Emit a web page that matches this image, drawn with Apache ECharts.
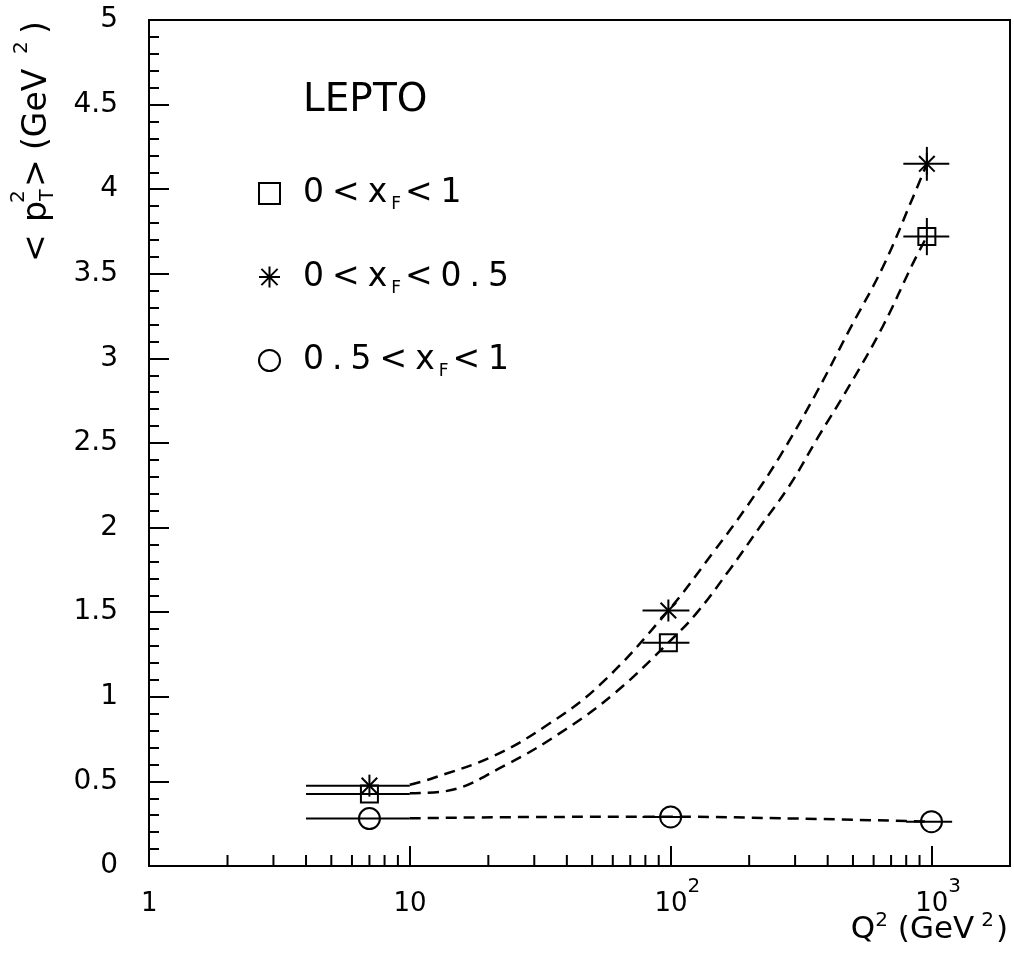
<!DOCTYPE html>
<html>
<head>
<meta charset="utf-8">
<script src="https://cdn.jsdelivr.net/npm/echarts@6/dist/echarts.min.js"></script>
<style>
  html, body { margin: 0; padding: 0; background: #fff; }
  #chart { width: 1014px; height: 958px; }
</style>
</head>
<body>
<div id="chart"></div>
<script>
// names of the three x_F bins
const seriesNames = ['0<x_F<1', '0<x_F<0.5', '0.5<x_F<1'];

// points: [Q2, <pT2>, Q2 low, Q2 high, <pT2> error]
const allXfPoints = [[7, 0.425, 4, 10, 0], [98, 1.32, 78, 118, 0], [960, 3.72, 780, 1170, 0.11]];
const lowXfPoints = [[7, 0.475, 4, 10, 0], [98, 1.51, 78, 118, 0], [960, 4.15, 780, 1170, 0.10]];
const highXfPoints = [[7, 0.28, 4, 10, 0], [100, 0.29, 78, 118, 0], [1000, 0.262, 800, 1200, 0]];

// dashed curves
const allXfCurve = [[10, 0.43], [13.4, 0.44], [23.5, 0.60], [39.8, 0.81], [61.9, 1.03], [98, 1.32], [125, 1.49],
  [168, 1.75], [219, 2.0], [286, 2.25], [366, 2.53], [485, 2.84], [651, 3.19], [848, 3.56], [960, 3.72]];
const lowXfCurve = [[10, 0.48], [12.3, 0.52], [20.9, 0.65], [33.4, 0.83], [53.5, 1.07], [98, 1.51],
  [145, 1.85], [195, 2.12], [262, 2.42], [363, 2.80], [485, 3.17], [651, 3.54], [848, 3.95], [960, 4.15]];
const highXfCurve = [[10, 0.282], [34, 0.29], [100, 0.291], [312, 0.28], [1000, 0.262]];

// x axis ticks
const xTickValues = [1, 10, 100, 1000];
const xTickBase = ['1', '10', '10', '10'];
const xTickExp = ['', '', '2', '3'];
const xMinorTicks = [2, 3, 4, 5, 6, 7, 8, 9, 20, 30, 40, 50, 60, 70, 80, 90, 200, 300, 400, 500, 600, 700, 800, 900];

const FONT = 'DejaVu Sans';
const ink = '#000';

function pointRenderer(kind) {
  return function (params, api) {
    const x = api.value(0), y = api.value(1);
    const c = api.coord([x, y]);
    const lo = api.coord([api.value(2), y]);
    const hi = api.coord([api.value(3), y]);
    const err = api.value(4);
    const style = {stroke: ink, lineWidth: 2, fill: 'none'};
    const children = [{type: 'line', shape: {x1: lo[0], y1: c[1], x2: hi[0], y2: c[1]}, style}];
    if (err > 0) {
      const t = api.coord([x, y + err]), b = api.coord([x, y - err]);
      children.push({type: 'line', shape: {x1: c[0], y1: t[1], x2: c[0], y2: b[1]}, style});
    }
    if (kind === 'square') {
      children.push({type: 'rect', shape: {x: c[0] - 8.5, y: c[1] - 8.5, width: 17, height: 17}, style});
    } else if (kind === 'circle') {
      children.push({type: 'circle', shape: {cx: c[0], cy: c[1], r: 10.5}, style});
    } else {
      const r = 11, d = 7.8;
      children.push({type: 'line', shape: {x1: c[0], y1: c[1] - r, x2: c[0], y2: c[1] + r}, style});
      children.push({type: 'line', shape: {x1: c[0] - d, y1: c[1] - d, x2: c[0] + d, y2: c[1] + d}, style});
      children.push({type: 'line', shape: {x1: c[0] - d, y1: c[1] + d, x2: c[0] + d, y2: c[1] - d}, style});
    }
    return {type: 'group', children};
  };
}

function curve(name, data) {
  return {
    name, type: 'line', data, smooth: 0.4, symbol: 'none', silent: true, z: 1,
    lineStyle: {color: ink, width: 2.5, type: [11, 7]}
  };
}

function legendText(name) {
  const parts = name.split('_F');
  const chars = s => s.split('').map(ch => '{n|' + ch + '}').join('');
  return '{g| }' + chars(parts[0]) + '{f|F}' + chars(parts[1]);
}

const chart = echarts.init(document.getElementById('chart'));
chart.setOption({
  animation: false,
  backgroundColor: '#fff',
  grid: {
    left: 149, right: 4, top: 20, bottom: 92, outerBoundsMode: 'none', containLabel: false,
    show: true, borderColor: ink, borderWidth: 2, backgroundColor: 'transparent'
  },
  xAxis: {
    type: 'log', logBase: 10, min: 1, max: 2000,
    axisLine: {onZero: false, lineStyle: {color: ink, width: 2}},
    axisTick: {inside: true, length: 20, lineStyle: {color: ink, width: 2}},
    splitLine: {show: false},
    axisLabel: {
      margin: 11, showMaxLabel: false, color: ink, fontFamily: FONT,
      formatter(value) {
        const i = xTickValues.findIndex(v => Math.abs(Math.log10(v) - Math.log10(value)) < 1e-6);
        if (i < 0) return '';
        if (xTickExp[i]) return '{h| }{sp| }{b|' + xTickBase[i] + '}{s|' + xTickExp[i] + '}';
        return '{h| }{b|' + xTickBase[i] + '}';
      },
      rich: {
        h: {fontSize: 1, lineHeight: 40, verticalAlign: 'top'},
        b: {fontSize: 26, lineHeight: 26, verticalAlign: 'bottom', fontFamily: FONT, color: ink},
        s: {fontSize: 20, lineHeight: 20, verticalAlign: 'top', fontFamily: FONT, color: ink},
        sp: {width: 13, fontSize: 20}
      }
    }
  },
  yAxis: {
    type: 'value', min: 0, max: 5, interval: 0.5,
    axisLine: {show: true, lineStyle: {color: ink, width: 2}},
    axisTick: {inside: true, length: 20, lineStyle: {color: ink, width: 2}},
    minorTick: {show: true, splitNumber: 5, length: 10, lineStyle: {color: ink, width: 2}},
    splitLine: {show: false},
    minorSplitLine: {show: false},
    axisLabel: {margin: 31, fontSize: 28, fontFamily: FONT, color: ink}
  },
  legend: {
    orient: 'vertical', left: 258, top: 177, padding: 0, itemWidth: 21, itemHeight: 21, itemGap: 47,
    selectedMode: false,
    data: [
      {name: seriesNames[0], icon: 'rect', itemStyle: {color: 'rgba(0,0,0,0)', borderColor: ink, borderWidth: 2}},
      {name: seriesNames[1], icon: 'path://M11,0L11,22M2.5,2.5L19.5,19.5M2.5,19.5L19.5,2.5M0,11L22,11',
        itemStyle: {color: 'rgba(0,0,0,0)', borderColor: ink, borderWidth: 2}},
      {name: seriesNames[2], icon: 'circle', itemStyle: {color: 'rgba(0,0,0,0)', borderColor: ink, borderWidth: 2}}
    ],
    formatter: legendText,
    textStyle: {
      rich: {
        g: {width: 14, fontSize: 20},
        n: {fontSize: 33, lineHeight: 40, padding: [0, 4, 0, 4], fontFamily: FONT, color: ink},
        f: {fontSize: 17, lineHeight: 20, verticalAlign: 'bottom', fontFamily: FONT, color: ink}
      }
    }
  },
  graphic: [
    {type: 'text', x: 303, y: 101, style: {text: 'LEPTO', fontSize: 39, fontFamily: FONT, fill: ink, verticalAlign: 'middle'}},
    {
      type: 'text', x: 1008, y: 911,
      style: {
        text: '{h| }{b|Q}{s|2}{b| (GeV}{s2|2}{b|)}', align: 'right', verticalAlign: 'top',
        rich: {
          h: {fontSize: 1, lineHeight: 34, verticalAlign: 'top'},
          b: {fontSize: 31, lineHeight: 31, verticalAlign: 'bottom', fontFamily: FONT, fill: ink},
          s: {fontSize: 20, lineHeight: 20, verticalAlign: 'top', fontFamily: FONT, fill: ink},
          s2: {fontSize: 20, lineHeight: 20, verticalAlign: 'top', padding: [0, 2, 0, 7], fontFamily: FONT, fill: ink}
        }
      }
    },
    {
      // rotated y title: < p_T^2 > (GeV^2)
      type: 'group', x: 37, y: 262, rotation: Math.PI / 2,
      children: [
        {type: 'text', x: 0, y: 0, style: {text: '<', fontSize: 33, fontFamily: FONT, fill: ink, verticalAlign: 'middle'}},
        {type: 'text', x: 40, y: 0, style: {text: 'p', fontSize: 33, fontFamily: FONT, fill: ink, verticalAlign: 'middle'}},
        {type: 'text', x: 61, y: 11, style: {text: 'T', fontSize: 19, fontFamily: FONT, fill: ink, verticalAlign: 'middle'}},
        {type: 'text', x: 59, y: -18, style: {text: '2', fontSize: 20, fontFamily: FONT, fill: ink, verticalAlign: 'middle'}},
        {type: 'text', x: 75, y: 0, style: {text: '>', fontSize: 33, fontFamily: FONT, fill: ink, verticalAlign: 'middle'}},
        {type: 'text', x: 112, y: 0, style: {text: '(GeV', fontSize: 33, fontFamily: FONT, fill: ink, verticalAlign: 'middle'}},
        {type: 'text', x: 208, y: -15, style: {text: '2', fontSize: 20, fontFamily: FONT, fill: ink, verticalAlign: 'middle'}},
        {type: 'text', x: 228, y: 0, style: {text: ')', fontSize: 33, fontFamily: FONT, fill: ink, verticalAlign: 'middle'}}
      ]
    }
  ],
  series: [
    curve('fit all', allXfCurve),
    curve('fit low', lowXfCurve),
    curve('fit high', highXfCurve),
    {
      name: 'minor ticks', type: 'custom', silent: true, z: 3,
      data: xMinorTicks.map(v => [v, 0]),
      encode: {x: 0, y: 1},
      renderItem(params, api) {
        const c = api.coord([api.value(0), 0]);
        return {type: 'line', shape: {x1: c[0], y1: c[1], x2: c[0], y2: c[1] - 11}, style: {stroke: ink, lineWidth: 2}};
      }
    },
    {name: seriesNames[0], type: 'custom', data: allXfPoints, encode: {x: 0, y: 1}, renderItem: pointRenderer('square'), z: 4},
    {name: seriesNames[1], type: 'custom', data: lowXfPoints, encode: {x: 0, y: 1}, renderItem: pointRenderer('star'), z: 4},
    {name: seriesNames[2], type: 'custom', data: highXfPoints, encode: {x: 0, y: 1}, renderItem: pointRenderer('circle'), z: 4}
  ]
});
</script>
</body>
</html>
